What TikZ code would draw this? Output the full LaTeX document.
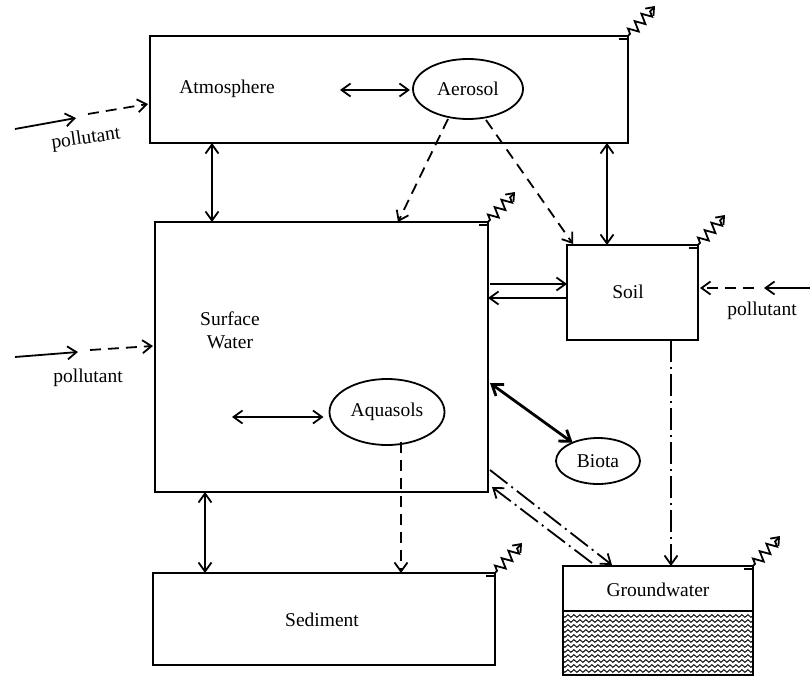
\documentclass[tikz,border=0pt]{standalone}
\usepackage{fontspec}
\setmainfont{Liberation Serif}
\usetikzlibrary{arrows.meta,calc,shapes.geometric,decorations.pathmorphing}
\begin{document}
\begin{tikzpicture}[x=1pt,y=-1pt,
  every node/.style={font=\fontsize{19.5}{23}\selectfont},
  ln/.style={line width=1.8pt},
  box/.style={draw,ln,inner sep=0,outer sep=0},
  ell/.style={draw,ln,ellipse,inner sep=0,outer sep=0},
  one/.style={ln,-{Straight Barb[length=9pt,width=13pt]}},
  two/.style={ln,{Straight Barb[length=9pt,width=13pt]}-{Straight Barb[length=9pt,width=13pt]}},
  dsh/.style={dash pattern=on 11pt off 7pt},
  dsd/.style={dash pattern=on 22pt off 5pt on 2pt off 5pt},
  sq/.style={ln,-{Straight Barb[length=7pt,width=11pt]},decorate,
    decoration={zigzag,segment length=10pt,amplitude=5pt,pre length=3pt,post length=7pt}},
  lab/.style={inner sep=0}]
\useasboundingbox (0,0) rectangle (810,679);

% boxes
\node[box,minimum width=478,minimum height=107] (atm) at (389,89.5) {};
\node[box,minimum width=333,minimum height=270] (sw) at (321.5,357) {};
\node[box,minimum width=131,minimum height=95] (soil) at (632.5,292.5) {};
\node[box,minimum width=342,minimum height=92] (sed) at (324,619) {};
\node[box,minimum width=190,minimum height=109] (gw) at (658,620.5) {};
\draw[ln] ($(gw.north west)+(0,45)$) -- ($(gw.north east)+(0,45)$);
\begin{scope}
\clip ($(gw.north west)+(1,46)$) rectangle ($(gw.south east)+(-1,-1)$);
\foreach \y in {616,621,...,676}
  \draw[line width=0.9pt,decorate,decoration={snake,segment length=6pt,amplitude=1.4pt}] (560,\y) -- (760,\y);
\end{scope}

% labels
\node[lab] (atmt) at (227,89) {Atmosphere};
\node[lab,align=center] (swt) at (230,330) {Surface\\Water};
\node[lab] (soilt) at (628,292) {Soil};
\node[lab] (sedt) at (322,620) {Sediment};
\node[lab] (gwt) at (658,590) {Groundwater};

% ellipses
\node[ell,minimum width=110,minimum height=60] (aer) at (468,89) {Aerosol};
\node[ell,minimum width=115,minimum height=66] (aq) at (387,412) {Aquasols};
\node[ell,minimum width=84,minimum height=46] (bio) at (598,461) {Biota};

% squiggles
\foreach \b in {atm,sw,soil,sed,gw}{
  \draw[sq] (\b.north east) -- ++(27,-30);
  \draw[ln] ($(\b.north east)+(-9,3)$) -- ($(\b.north east)+(0,3)$);
}

% connectors
\draw[two] ($(atm.south west)+(62,0)$) -- ($(sw.north west)+(57,0)$);
\draw[two] ($(atm.south west)+(457,0)$) -- ($(soil.north west)+(40,0)$);
\coordinate (a1) at (340,90);
\draw[two] (a1) -- ($(aer.west)+(-3,1)$);
\coordinate (a2) at (232,417);
\draw[two] (a2) -- ($(aq.west)+(-6,5)$);
\draw[one,dsh] ($(aer.center)+(-20,30)$) -- ($(sw.north west)+(243,0)$);
\draw[one,dsh] ($(aer.center)+(18,31)$) -- ($(soil.north west)+(6,-1)$);
\draw[one] ($(sw.north east)+(2,62)$) -- ($(soil.north west)+(0,39)$);
\draw[one] ($(soil.north west)+(0,53)$) -- ($(sw.north east)+(0,76)$);
\draw[one,dsd] ($(soil.south west)+(104,0)$) -- ($(gw.north west)+(108,0)$);
\draw[line width=2.8pt,{Straight Barb[length=10pt,width=14pt]}-{Straight Barb[length=10pt,width=14pt]}] ($(sw.north east)+(2,161)$) -- (bio);
\draw[one,dsd] ($(sw.south east)+(2,-22)$) -- ($(gw.north west)+(49,-1)$);
\draw[one,dsd] ($(gw.north west)+(29,-3)$) -- ($(sw.south east)+(4,-5)$);
\draw[one,dsh] ($(aq.center)+(14,30)$) -- ($(sed.north west)+(248,0)$);
\draw[two] ($(sw.south west)+(50,0)$) -- ($(sed.north west)+(52,0)$);

% pollutants
\coordinate (p1a) at (15,129); \coordinate (p1b) at (76,118); \coordinate (p1c) at (88,114);
\draw[one] (p1a) -- (p1b);
\draw[one,dsh] (p1c) -- ($(atm.north west)+(-2,68)$);
\node[lab,rotate=8] (p1t) at (86,139) {pollutant};
\coordinate (p2a) at (15,357); \coordinate (p2b) at (78,352); \coordinate (p2c) at (90,350);
\draw[one] (p2a) -- (p2b);
\draw[one,dsh] (p2c) -- ($(sw.north west)+(-2,124)$);
\node[lab] (p2t) at (88,378) {pollutant};
\coordinate (p3a) at (810,288); \coordinate (p3b) at (764,288); \coordinate (p3c) at (754,288);
\draw[one] (p3a) -- (p3b);
\draw[one,dsh] (p3c) -- ($(soil.north east)+(2,43)$);
\node[lab] (p3t) at (762,311) {pollutant};
\end{tikzpicture}
\end{document}
